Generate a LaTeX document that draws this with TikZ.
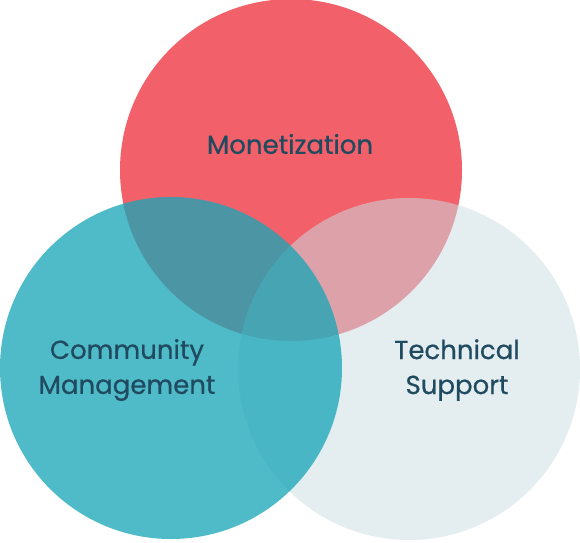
\documentclass[tikz,border=0pt]{standalone}
\usepackage{fontspec}
\setmainfont{Poppins}
\newfontfamily\lblfont{Poppins}[FakeBold=0.6]
\definecolor{redc}{RGB}{242,97,106}
\definecolor{lightc}{RGB}{203,222,228}
\definecolor{tealc}{RGB}{25,166,183}
\definecolor{txt}{RGB}{31,74,95}
\begin{document}
\begin{tikzpicture}[x=1pt,y=-1pt,
  venn/.style={circle, inner sep=0pt, minimum size=342pt},
  lbl/.style={text=txt, font=\lblfont\fontsize{26}{35}\selectfont, align=center}]
\useasboundingbox (0,0) rectangle (580,542);
\node[venn, fill=redc] (mon) at (291,170) {};
\node[venn, fill=lightc, fill opacity=0.52] (tech) at (409,369) {};
\node[venn, fill=tealc, fill opacity=0.76] (comm) at (171,368) {};
\node[lbl] (monl) at (290,144) {Monetization};
\node[lbl] (comml) at (127,370) {Community\\Management};
\node[lbl] (techl) at (457,370) {Technical\\Support};
\end{tikzpicture}
\end{document}
